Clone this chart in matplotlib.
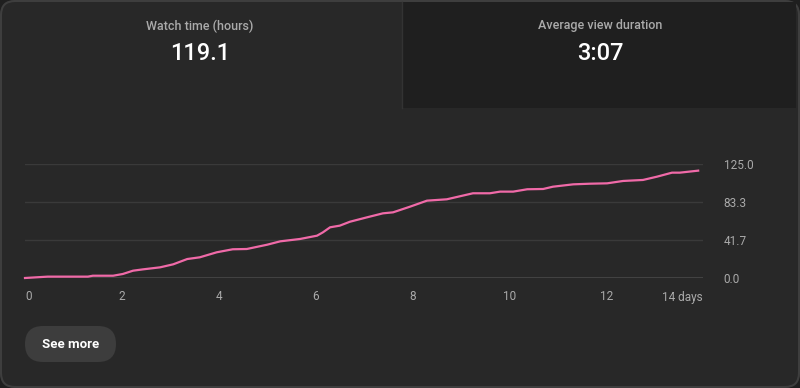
import matplotlib.pyplot as plt
from matplotlib.patches import FancyBboxPatch, Rectangle

plt.rcParams['font.family'] = ['Roboto', 'DejaVu Sans']

# cumulative watch time (hours) by day since publish
days = [0, 0.47, 1.30, 1.40, 1.82, 2.02, 2.23, 2.44, 2.79, 3.06, 3.35, 3.61,
        3.96, 4.29, 4.58, 5.00, 5.27, 5.68, 6.03, 6.15, 6.30, 6.50, 6.71,
        7.06, 7.39, 7.60, 7.95, 8.30, 8.71, 9.25, 9.60, 9.81, 10.08, 10.37,
        10.70, 10.90, 11.32, 11.67, 12.02, 12.35, 12.76, 13.05, 13.36, 13.52,
        13.90]
hours = [0, 1.5, 1.5, 2.5, 2.5, 4.4, 8.0, 9.5, 11.7, 15.0, 20.8, 22.7,
         28.2, 31.5, 31.8, 36.5, 40.2, 42.8, 46.4, 50.0, 55.6, 57.4, 61.7,
         66.5, 70.9, 72.0, 78.2, 84.8, 86.3, 92.9, 92.9, 94.7, 94.7, 97.3,
         97.6, 100.1, 102.7, 103.4, 103.8, 106.4, 107.5, 111.1, 115.5, 115.5,
         117.7]

x_ticks = [0, 2, 4, 6, 8, 10, 12, 14]
x_labels = ['0', '2', '4', '6', '8', '10', '12', '14 days']
y_ticks = [0, 41.7, 83.3, 125.0]

W, H = 800, 388
fig = plt.figure(figsize=(W / 100, H / 100), dpi=100)
fig.patch.set_facecolor('#1f1f1f')

# card background drawn in pixel coordinates
bg = fig.add_axes([0, 0, 1, 1])
bg.set_xlim(0, W)
bg.set_ylim(H, 0)
bg.axis('off')
bg.add_patch(FancyBboxPatch((1, 1), W - 2, H - 2, boxstyle='round,pad=0,rounding_size=14',
                            facecolor='#282828', edgecolor='#3e3e3e', lw=1.5))
bg.add_patch(Rectangle((402, 2), 394, 106, facecolor='#1f1f1f', edgecolor='none'))
bg.plot([402, 402], [2, 108], color='#333333', lw=1)

bg.text(200, 26, 'Watch time (hours)', color='#aaaaaa', fontsize=9, fontweight='medium',
        ha='center', va='center')
bg.text(200, 53, '119.1', color='white', fontsize=17, fontweight='medium',
        ha='center', va='center')
bg.text(600, 26, 'Average view duration', color='#aaaaaa', fontsize=9, fontweight='medium',
        ha='center', va='center')
bg.text(600, 53, '3:07', color='white', fontsize=17, fontweight='medium',
        ha='center', va='center')

bg.add_patch(FancyBboxPatch((25, 326), 91, 36, boxstyle='round,pad=0,rounding_size=18',
                            facecolor='#3d3d3d', edgecolor='none'))
bg.text(70.5, 344, 'See more', color='white', fontsize=9.5, fontweight='bold',
        ha='center', va='center')

# chart
ax = fig.add_axes([25 / W, 1 - 278 / H, 678 / W, 114 / H])
ax.set_facecolor('none')
ax.plot(days, hours, color='#f06aa8', lw=1.6, clip_on=False, solid_joinstyle='round')
ax.set_xlim(0, 14)
ax.set_ylim(0, 125)
for y in y_ticks[1:]:
    ax.axhline(y, color='#3a3a3a', lw=1, zorder=0)
ax.axhline(0, color='#b0b0b0', lw=1, zorder=1)
for s in ax.spines.values():
    s.set_visible(False)
ax.set_xticks(x_ticks)
ax.set_xticklabels(x_labels)
ax.set_yticks(y_ticks)
ax.set_yticklabels([f'{v:.1f}' for v in y_ticks])
ax.yaxis.tick_right()
ax.tick_params(axis='both', length=0, colors='#aaaaaa', labelsize=8.5)
ax.tick_params(axis='y', pad=15)
ax.tick_params(axis='x', pad=9)
xl = ax.get_xticklabels()
xl[0].set_ha('left')
xl[-1].set_ha('right')

fig.savefig('out.png', dpi=100, facecolor=fig.get_facecolor())
